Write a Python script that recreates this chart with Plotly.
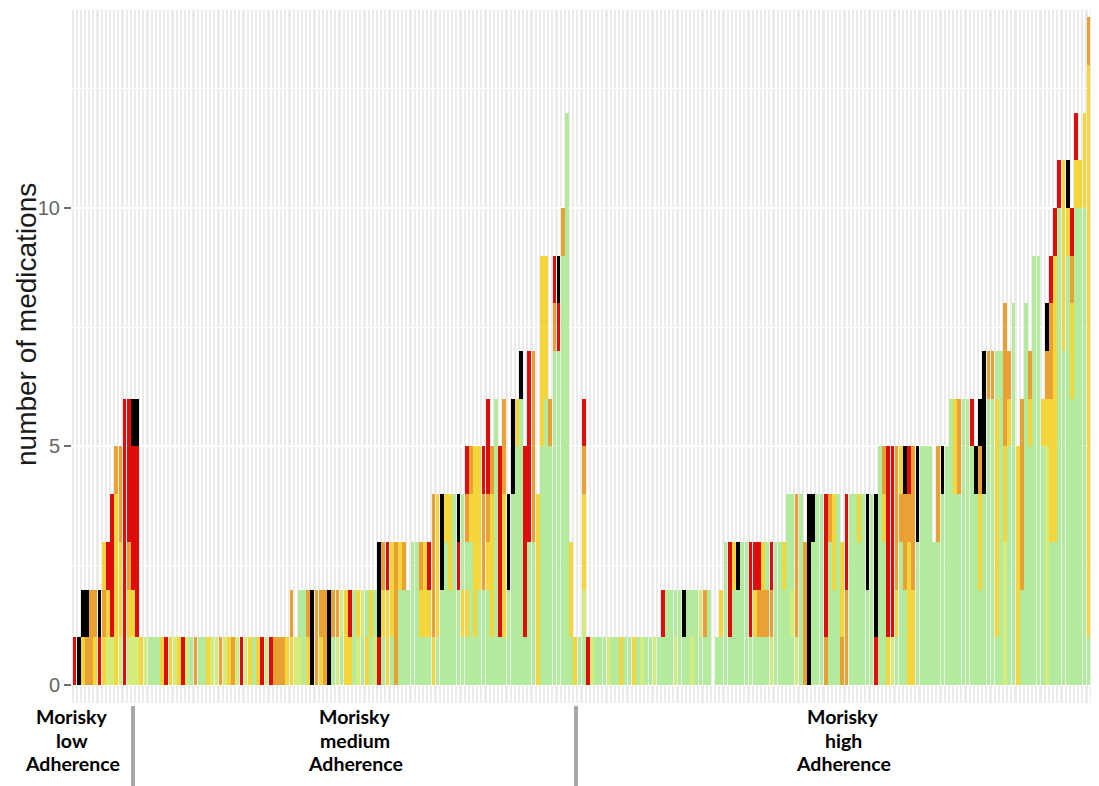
import plotly.graph_objects as go

# Each string is one patient column, colour codes listed bottom -> top
# K=black, R=red, O=orange, Y=yellow, L=lime, G=light green
low_group = ["R", "K", "YK", "OK", "OO", "YO", "RK", "YOY", "LYR", "LRRR",
             "YYYYO", "LYYOO", "RRRRRR", "LYORRR", "LYRRRK", "LRRRRK"]

medium_group = [
    "Y", "L", "G", "G", "G", "Y", "R", "Y", "L", "Y", "R", "L", "G", "O", "G", "G",
    "Y", "L", "L", "O", "L", "Y", "O", "L", "R", "L", "Y", "G", "Y", "R", "L", "R",
    "O", "O", "O", "Y", "YO", "L", "LG", "GG", "YO", "KK", "OO", "YO", "OO", "KK",
    "GO", "LO", "GL", "YY", "YR", "GG", "LY", "GL", "YG", "GY", "LG", "RKK", "GYO",
    "YYR", "GYY", "OOO", "GGY", "GGO", "GG", "GGG", "GGG", "GYO", "GYY", "GYR",
    "YOOO", "GYYY", "GGKK", "GGGY", "GGYY", "GGGG", "GGRK", "GYGG", "GYGOR", "GGGYO",
    "GYYYY", "GGYYY", "GGOOR", "GGYORR", "GYYYO", "GGGGGG", "GRRRR", "GYYYOO", "GGKK",
    "GGGGKK", "GGGGGY", "GGGGGGK", "GRRRR", "GGGRRRR", "GGGOOOO", "YYYY",
    "GGGGGYYYY", "GGGGGGYYY", "GGGGGO", "GGGGGGGOR", "GGGGGGGRK", "GGGGGGGGGO",
    "GGGGGGGGGGGG", "GYY", "Y"]

high_group = [
    "G", "GLYYOR", "R", "L", "G", "G", "G", "L", "G", "G", "Y", "G", "G", "Y", "G",
    "L", "G", "G", "L", "G", "GR", "GG", "GG", "LG", "GG", "GK", "GG", "LG", "GG",
    "GL", "GO", "GG", "", "G", "GY", "GGG", "GRR", "GGY", "GGK", "GGG", "GGG", "GRR",
    "GYR", "GOR", "GOY", "GOG", "LOR", "GGG", "GGG", "GGY", "GGGG", "GLGG", "LOOO",
    "GGGG", "OOO", "KKKK", "GGGK", "GGGG", "GGGG", "ORRR", "GGGO", "GGYY", "GGGG",
    "OYY", "OORR", "GGGG", "GGGG", "GGGY", "GGGG", "GGKK", "GGGG", "RKKK", "GGGGG",
    "GGGYO", "YRRRR", "LRRRR", "GYOOO", "GGGOY", "GGOOK", "YYYOR", "YYOOO", "GGGKK",
    "GGGGG", "GGGGG", "GGGGG", "GGG", "GGGOO", "GGGGK", "GGGGG", "GGGGGG", "GGGGYY",
    "GGGGOO", "GGGGGG", "GGGGGG", "GGGGGR", "GGGGK", "GGYYOK", "GGGGKKK", "GGGGGGO",
    "GGGGGGO", "GYYYYYG", "GGGGGGG", "LLLYYOOO", "GGGGGYO", "GGGGGGGG", "YYYYY",
    "GGOOOO", "GGGGGGGG", "GGGGGYO", "GGGGGGGGG", "GGGGGGGGG", "GGGGGY", "LLLLLYOK",
    "GGGYYYOOR", "GGGYYYYYYR", "GGGGGGGGGGR", "GGGGGGGYYYY", "GGGGGGGGGYK",
    "GGGGGGYYOR", "GGGGGGGGGGYR", "GGGGGGGGGGY", "GGGGGGGGGGYY", "GYYYYYYYYYYYYO",
    "GGGGGG", "GGGGG"]

group_labels = [["Morisky", "low", "Adherence"],
                ["Morisky", "medium", "Adherence"],
                ["Morisky", "high", "Adherence"]]
y_ticks = [0, 5, 10]

palette = {"G": "#B3EA9D", "L": "#D3EC7C", "Y": "#F4D53B",
           "O": "#E9A133", "R": "#DF0C0C", "K": "#000000"}
order = ["G", "L", "Y", "O", "R", "K"]

columns = low_group + medium_group + high_group
n_cols = len(columns)

segs = {c: {"x": [], "base": [], "y": []} for c in order}
for i, col in enumerate(columns):
    j = 0
    while j < len(col):
        c = col[j]
        k = j
        while k < len(col) and col[k] == c:
            k += 1
        segs[c]["x"].append(i)
        segs[c]["base"].append(j)
        segs[c]["y"].append(k - j)
        j = k

fig = go.Figure()
for c in order:
    fig.add_trace(go.Bar(x=segs[c]["x"], y=segs[c]["y"], base=segs[c]["base"],
                         width=0.9, marker=dict(color=palette[c], line=dict(width=0)),
                         showlegend=False, hoverinfo="skip"))

# page has an 8px body margin: figure sits at page (8, 8)
OFF = 8
PX0, PX1, PY0, PY1 = 72, 1099, 10, 703   # plot area in page pixels
W = 1099 - OFF
H = 786 - OFF
L = PX0 - OFF
T = PY0 - OFF
B = H - (PY1 - OFF)
pw = PX1 - PX0
ph = PY1 - PY0


def px(xp):
    return (xp - PX0) / pw


def py(yp):
    return (PY1 - yp) / ph


fig.update_layout(
    width=W, height=H, barmode="overlay", bargap=0,
    margin=dict(l=L, r=0, t=T, b=B, autoexpand=False),
    paper_bgcolor="white", plot_bgcolor="#EBEBEB",
    font=dict(family="Liberation Sans, Arial, sans-serif"),
)
fig.update_xaxes(range=[-0.6, n_cols - 0.5], tickvals=list(range(n_cols)),
                 showticklabels=False, ticks="", showgrid=True,
                 gridcolor="white", gridwidth=2, zeroline=False, showline=False)
fig.update_yaxes(range=[-0.377, 14.15], tickvals=y_ticks,
                 ticktext=[str(v) for v in y_ticks],
                 ticks="outside", ticklen=7, tickwidth=2, tickcolor="#6E6E6E",
                 tickfont=dict(size=20, color="#666666"),
                 showgrid=True, gridcolor="white", gridwidth=2, zeroline=False,
                 showline=False,
                 minor=dict(tickvals=[2.5, 7.5, 12.5], showgrid=True,
                            gridcolor="white", gridwidth=1, ticks=""))

fig.add_annotation(text="number of medications", textangle=-90,
                   xref="paper", yref="paper", x=px(26), y=py(325),
                   xanchor="center", yanchor="middle", borderpad=0,
                   showarrow=False, font=dict(size=28, color="#1A1A1A"))

centers = [72, 355, 843]
line_y = [716, 740, 763]
for cx, lines in zip(centers, group_labels):
    for ly, txt in zip(line_y, lines):
        fig.add_annotation(text="<b>" + txt + "</b>", xref="paper", yref="paper",
                           x=px(cx), y=py(ly), yanchor="middle",
                           xanchor="center", showarrow=False, align="center",
                           font=dict(size=19.5, color="black", family="Lato, sans-serif"))

for sx in [133, 576]:
    fig.add_shape(type="line", xref="paper", yref="paper",
                  x0=px(sx), x1=px(sx), y0=py(706), y1=py(790),
                  line=dict(color="#A8A8A8", width=4))

fig.write_html("out.html")
